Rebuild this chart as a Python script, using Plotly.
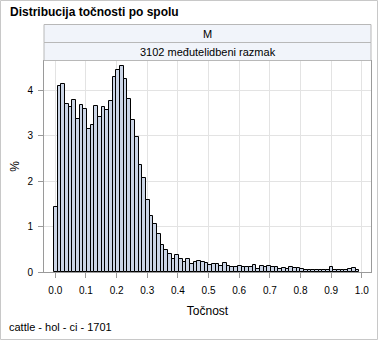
import numpy as np
import plotly.graph_objects as go

# Histogram of accuracy (Točnost), percent of animals per bin
bin_start = -0.0045
bin_width = 0.012
percent = [
    1.43, 4.09, 4.13, 3.70, 3.63, 3.78, 3.36, 3.67, 3.60, 3.14,
    3.23, 3.65, 3.41, 3.63, 3.56, 3.76, 4.29, 4.44, 4.53, 4.24,
    3.80, 3.34, 2.97, 2.35, 2.07, 1.58, 1.23, 1.06, 0.84, 0.59,
    0.48, 0.39, 0.28, 0.37, 0.29, 0.23, 0.28, 0.18, 0.23, 0.24,
    0.23, 0.19, 0.15, 0.17, 0.17, 0.14, 0.19, 0.14, 0.12, 0.12,
    0.14, 0.10, 0.10, 0.10, 0.15, 0.06, 0.13, 0.12, 0.13, 0.12,
    0.12, 0.07, 0.09, 0.07, 0.10, 0.08, 0.09, 0.07, 0.05, 0.05,
    0.05, 0.05, 0.05, 0.05, 0.05, 0.10, 0.05, 0.05, 0.05, 0.05,
    0.06, 0.09, 0.04,
]
midpoints = bin_start + bin_width * (np.arange(len(percent)) + 0.5)

x_ticks = [round(0.1 * i, 1) for i in range(11)]
y_ticks = [0, 1, 2, 3, 4]

title_text = "Distribucija točnosti po spolu"
strip_1 = "M"
strip_2 = "3102 međutelidbeni razmak"
x_title = "Točnost"
y_title = "%"
footnote = "cattle - hol - ci - 1701"

# page geometry in pixels
W, H = 378, 340
L, R, T, B = 44, 371, 61, 272
FONT = "Liberation Sans, Arial, sans-serif"


def px(xp):
    return (xp - L) / (R - L)


def py(yp):
    return (B - yp) / (B - T)


fig = go.Figure()
fig.add_trace(go.Bar(
    x=midpoints, y=percent, width=bin_width,
    marker=dict(color="#cbd5e6", line=dict(color="black", width=1)),
    hoverinfo="skip",
))

axis_line = "#9a9a9a"
grid = "#e3e3e3"

shapes = [
    # outer frame
    dict(type="rect", xref="paper", yref="paper",
         x0=px(0.5), x1=px(W - 0.5), y0=py(H - 0.5), y1=py(0.5),
         line=dict(color="#c8c8c8", width=1), fillcolor="rgba(0,0,0,0)", layer="below"),
    # header strips
    dict(type="rect", xref="paper", yref="paper",
         x0=0, x1=1, y0=py(42.5), y1=py(24.5),
         line=dict(color="#b8b8b8", width=1), fillcolor="#f1f4fa"),
    dict(type="rect", xref="paper", yref="paper",
         x0=0, x1=1, y0=py(60.5), y1=py(42.5),
         line=dict(color="#b8b8b8", width=1), fillcolor="#f1f4fa"),
]

annotations = [
    dict(text=f"<b>{title_text}</b>", xref="paper", yref="paper", x=px(8), y=py(12),
         xanchor="left", yanchor="middle", showarrow=False,
         font=dict(family=FONT, size=12, color="black")),
    dict(text=strip_1, xref="paper", yref="paper", x=0.5, y=py(33.5),
         xanchor="center", yanchor="middle", showarrow=False,
         font=dict(family=FONT, size=11, color="black")),
    dict(text=strip_2, xref="paper", yref="paper", x=0.5, y=py(51.5),
         xanchor="center", yanchor="middle", showarrow=False,
         font=dict(family=FONT, size=11, color="black")),
    dict(text=footnote, xref="paper", yref="paper", x=px(7), y=py(327),
         xanchor="left", yanchor="middle", showarrow=False,
         font=dict(family=FONT, size=11, color="black")),
]

fig.update_layout(
    width=W, height=H,
    margin=dict(l=L, r=W - R, t=T, b=H - B, pad=0),
    paper_bgcolor="white", plot_bgcolor="white",
    showlegend=False, bargap=0,
    shapes=shapes, annotations=annotations,
    font=dict(family=FONT, size=10, color="black"),
)
fig.update_xaxes(
    range=[-0.0369, 1.030], tickvals=x_ticks, tickformat=".1f",
    showgrid=True, gridcolor=grid, gridwidth=1, zeroline=False,
    showline=True, linecolor=axis_line, linewidth=1, mirror=True,
    ticks="outside", ticklen=5, tickcolor=axis_line, ticklabelstandoff=4,
    tickfont=dict(family=FONT, size=10, color="black"),
    title=dict(text=x_title, font=dict(family=FONT, size=12, color="black"), standoff=11),
)
fig.update_yaxes(
    range=[0, 4.647], tickvals=y_ticks,
    showgrid=True, gridcolor=grid, gridwidth=1, zeroline=False,
    showline=True, linecolor=axis_line, linewidth=1, mirror=True,
    ticks="outside", ticklen=5, tickcolor=axis_line, ticklabelstandoff=3,
    tickfont=dict(family=FONT, size=10, color="black"),
    title=dict(text=y_title, font=dict(family=FONT, size=12, color="black"), standoff=5),
)

fig.write_html("out.html")
